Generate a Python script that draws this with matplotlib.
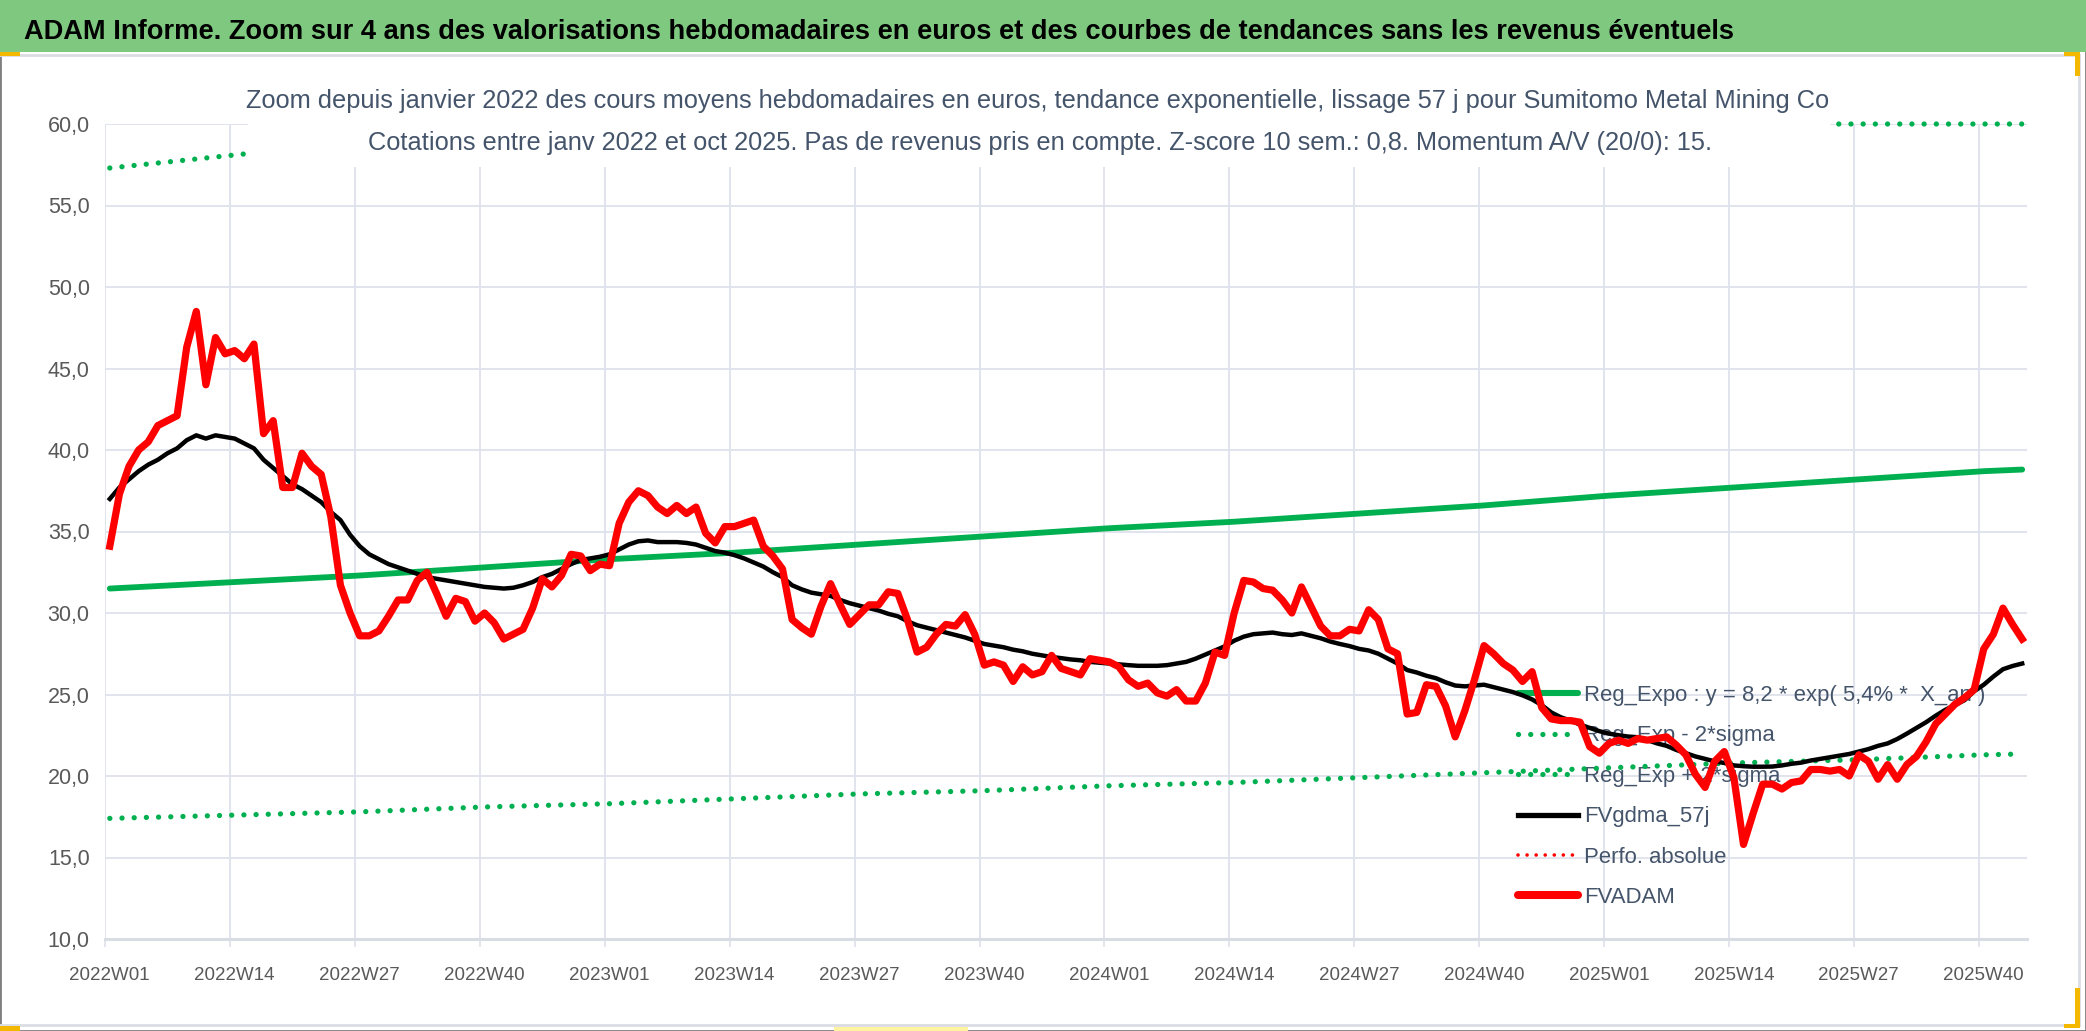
#!/usr/bin/env python3
"""
ADAM weekly valuation zoom chart (Sumitomo Metal Mining Co), 2022W01 - 2025W44
"""

import numpy as np
import matplotlib
matplotlib.use('Agg')  # Non-interactive backend
import matplotlib.pyplot as plt
from matplotlib import font_manager
from matplotlib.lines import Line2D
from matplotlib.patches import Rectangle

# ---- data ------------------------------------------------------------------
tick_labels = ['2022W01', '2022W14', '2022W27', '2022W40',
               '2023W01', '2023W14', '2023W27', '2023W40',
               '2024W01', '2024W14', '2024W27', '2024W40',
               '2025W01', '2025W14', '2025W27', '2025W40']

# FVADAM : weekly mean price in euros (one value per week, 200 weeks)
fvadam = [
    34.1, 37.3, 39.0, 40.0, 40.5, 41.5, 41.8, 42.1, 46.3, 48.5,
    44.0, 46.9, 45.9, 46.1, 45.6, 46.5, 41.0, 41.8, 37.7, 37.7,
    39.8, 39.0, 38.5, 35.9, 31.7, 30.0, 28.6, 28.6, 28.9, 29.8,
    30.8, 30.8, 32.0, 32.5, 31.2, 29.8, 30.9, 30.7, 29.5, 30.0,
    29.4, 28.4, 28.7, 29.0, 30.3, 32.1, 31.6, 32.3, 33.6, 33.5,
    32.6, 33.0, 32.9, 35.5, 36.8, 37.5, 37.2, 36.5, 36.1, 36.6,
    36.1, 36.5, 34.9, 34.3, 35.3, 35.3, 35.5, 35.7, 34.1, 33.5,
    32.7, 29.6, 29.1, 28.7, 30.4, 31.8, 30.5, 29.3, 29.9, 30.5,
    30.5, 31.3, 31.2, 29.6, 27.6, 27.9, 28.7, 29.3, 29.2, 29.9,
    28.7, 26.8, 27.0, 26.8, 25.8, 26.7, 26.2, 26.4, 27.4, 26.6,
    26.4, 26.2, 27.2, 27.1, 27.0, 26.7, 25.9, 25.5, 25.7, 25.1,
    24.9, 25.3, 24.6, 24.6, 25.7, 27.6, 27.4, 30.0, 32.0, 31.9,
    31.5, 31.4, 30.8, 30.0, 31.6, 30.4, 29.2, 28.6, 28.6, 29.0,
    28.9, 30.2, 29.6, 27.8, 27.5, 23.8, 23.9, 25.6, 25.5, 24.3,
    22.4, 24.0, 25.9, 28.0, 27.5, 26.9, 26.5, 25.8, 26.4, 24.2,
    23.5, 23.4, 23.4, 23.3, 21.8, 21.4, 22.0, 22.2, 22.0, 22.3,
    22.2, 22.3, 22.4, 21.9, 21.3, 20.1, 19.3, 20.9, 21.5, 19.9,
    15.8, 17.7, 19.5, 19.5, 19.2, 19.6, 19.7, 20.4, 20.4, 20.3,
    20.4, 20.0, 21.3, 20.9, 19.8, 20.7, 19.8, 20.7, 21.2, 22.1,
    23.2, 23.8, 24.4, 24.8, 25.3, 27.8, 28.7, 30.3, 29.3, 28.4,
]

# FVgdma_57j : 57-day smoothed curve
fvgdma_57j = [
    37.0, 37.7, 38.2, 38.7, 39.1, 39.4, 39.8, 40.1, 40.6, 40.9,
    40.7, 40.9, 40.8, 40.7, 40.4, 40.1, 39.4, 38.9, 38.4, 37.9,
    37.6, 37.2, 36.8, 36.2, 35.7, 34.8, 34.1, 33.6, 33.3, 33.0,
    32.8, 32.6, 32.4, 32.2, 32.1, 32.0, 31.9, 31.8, 31.7, 31.6,
    31.55, 31.5, 31.55, 31.7, 31.9, 32.2, 32.4, 32.7, 33.0, 33.25,
    33.35, 33.45, 33.6, 33.9, 34.2, 34.4, 34.45, 34.35, 34.35, 34.35,
    34.3, 34.2, 34.0, 33.8, 33.7, 33.55, 33.35, 33.1, 32.85, 32.5,
    32.2, 31.7, 31.45, 31.25, 31.15, 31.05, 30.8, 30.6, 30.45, 30.3,
    30.15, 29.95, 29.8, 29.5, 29.25, 29.1, 28.95, 28.8, 28.65, 28.5,
    28.3, 28.1, 28.0, 27.9, 27.75, 27.65, 27.5, 27.4, 27.3, 27.23,
    27.15, 27.1, 27.0, 26.95, 26.9, 26.85, 26.8, 26.76, 26.76, 26.76,
    26.8, 26.9, 27.0, 27.2, 27.45, 27.7, 27.95, 28.3, 28.55, 28.7,
    28.75, 28.8, 28.7, 28.65, 28.75, 28.6, 28.45, 28.25, 28.1, 27.97,
    27.8, 27.7, 27.5, 27.2, 26.9, 26.5, 26.35, 26.15, 26.0, 25.75,
    25.55, 25.5, 25.55, 25.6, 25.45, 25.3, 25.15, 24.95, 24.7, 24.35,
    23.9, 23.6, 23.4, 23.15, 22.95, 22.75, 22.6, 22.5, 22.42, 22.38,
    22.2, 22.0, 21.85, 21.6, 21.4, 21.2, 21.05, 20.9, 20.8, 20.65,
    20.6, 20.57, 20.57, 20.58, 20.65, 20.75, 20.82, 20.95, 21.05, 21.15,
    21.25, 21.35, 21.5, 21.65, 21.85, 22.0, 22.27, 22.6, 22.95, 23.3,
    23.7, 24.06, 24.35, 24.65, 25.2, 25.6, 26.1, 26.55, 26.75, 26.9,
]

# trend curves, read at the labelled weeks and at the last week
trend_weeks = [0, 13, 26, 39, 52, 65, 78, 91, 104, 117, 130, 143, 156, 169, 182, 195, 199]
reg_expo = [31.5, 31.9, 32.3, 32.8, 33.3, 33.7, 34.2, 34.7, 35.2, 35.6,
            36.1, 36.6, 37.2, 37.7, 38.2, 38.7, 38.8]
reg_minus_2sigma = [17.4, 17.6, 17.8, 18.1, 18.3, 18.6, 18.9, 19.1, 19.4, 19.6,
                    19.9, 20.2, 20.5, 20.8, 21.0, 21.3, 21.35]
reg_plus_2sigma = [57.3, 58.1, 58.9, 59.8, 60.6, 61.5, 62.3, 63.2, 64.1, 65.0,
                   65.9, 66.9, 67.8, 68.8, 69.8, 70.8, 71.1]

Y_MIN, Y_MAX = 10, 60

# ---- fonts / colours --------------------------------------------------------
installed = {f.name for f in font_manager.fontManager.ttflist}
FONT = 'Liberation Sans Narrow' if 'Liberation Sans Narrow' in installed else 'Liberation Sans'
plt.rcParams['font.family'] = [FONT, 'DejaVu Sans']

GREEN = '#00B050'
RED = '#FF0000'
GRID = '#DEE2EA'
TICK_TXT = '#595959'
SUB_TXT = '#44546A'

W, H = 2086, 1031
fig = plt.figure(figsize=(W / 100, H / 100), dpi=100)


def fx(px):
    return px / W


def fy(py):
    return 1 - py / H


# frame, title band, selection marks
fig.add_artist(Rectangle((0, fy(1031)), 1, 1, transform=fig.transFigure,
                         facecolor='white', edgecolor='#7F7F7F', lw=2, zorder=-5))
fig.add_artist(Rectangle((0, fy(52)), 1, 52 / H, transform=fig.transFigure,
                         facecolor='#7EC97F', edgecolor='none', zorder=-4))
fig.add_artist(Line2D([0, fx(2079)], [fy(55), fy(55)], transform=fig.transFigure,
                      color='#DADDE3', lw=2, zorder=-3))
fig.add_artist(Line2D([0, fx(2079)], [fy(1025), fy(1025)], transform=fig.transFigure,
                      color='#DADDE3', lw=2, zorder=-3))
fig.add_artist(Line2D([fx(2079), fx(2079)], [fy(55), fy(1025)], transform=fig.transFigure,
                      color='#DADDE3', lw=2, zorder=-3))
for (x0, y0, w, h, c) in [(0, 52, 20, 4, '#F5B800'), (2064, 52, 16, 4, '#F5B800'),
                          (2075, 52, 5, 24, '#F5B800'), (0, 1026, 20, 5, '#F5B800'),
                          (834, 1027, 134, 4, '#FFF3A0'), (2075, 988, 5, 40, '#F5B800'),
                          (2064, 1024, 16, 4, '#F5B800')]:
    fig.add_artist(Rectangle((fx(x0), fy(y0 + h)), w / W, h / H, transform=fig.transFigure,
                             facecolor=c, edgecolor='none', zorder=-2))

fig.text(fx(24), fy(39), 'ADAM Informe. Zoom sur 4 ans des valorisations hebdomadaires en euros '
         'et des courbes de tendances sans les revenus éventuels',
         fontsize=19.6, fontweight='bold', color='black', va='baseline', ha='left')

# ---- main axes ---------------------------------------------------------------
ax = fig.add_axes([fx(105), fy(939), (2027 - 105) / W, (939 - 124) / H])
ax.set_facecolor('none')
weeks = np.arange(len(fvadam))

dots = dict(color=GREEN, lw=3.8, linestyle=(0, (0.01, 2.3)), dash_capstyle='round', zorder=3)
ax.plot(trend_weeks, reg_expo, color=GREEN, lw=4.2, solid_capstyle='round', zorder=3)
ax.plot(trend_weeks, reg_minus_2sigma, **dots)
# values above the axis top are drawn along the top edge, as in the source chart
ax.plot(trend_weeks, np.minimum(reg_plus_2sigma, Y_MAX), clip_on=False, **dots)
ax.plot(weeks, fvgdma_57j, color='black', lw=3.2, zorder=4)
ax.plot(weeks, fvadam, color=RED, lw=5.2, solid_joinstyle='round', zorder=5)

ax.set_xlim(-0.5, len(fvadam) - 0.5)
ax.set_ylim(Y_MIN, Y_MAX)
tick_pos = np.arange(len(tick_labels)) * 13
ax.set_xticks(tick_pos)
ax.set_xticklabels(tick_labels)
ax.set_xticks(tick_pos - 0.5, minor=True)
ax.set_yticks(np.arange(Y_MIN, Y_MAX + 1, 5))
ax.set_yticklabels([f'{v:.1f}'.replace('.', ',') for v in np.arange(Y_MIN, Y_MAX + 1, 5)])
ax.tick_params(axis='x', which='major', length=0, pad=20, labelsize=13.5, labelcolor=TICK_TXT)
ax.tick_params(axis='x', which='minor', length=6, width=1.2, color=GRID)
ax.tick_params(axis='y', length=0, pad=11, labelsize=15.5, labelcolor=TICK_TXT)
ax.grid(which='minor', axis='x', color=GRID, lw=1.3, zorder=0)
ax.grid(which='major', axis='y', color=GRID, lw=1.3, zorder=0)
ax.grid(which='major', axis='x', visible=False)
# category axis line at the bottom, a bit stronger than the grid
ax.axhline(Y_MIN, color='#D9DCE2', lw=2.2, clip_on=False, zorder=1)
for s in ax.spines.values():
    s.set_visible(False)
ax.set_axisbelow(True)

handles = [
    Line2D([], [], color=GREEN, lw=4.4, solid_capstyle='round'),
    Line2D([], [], color=GREEN, lw=3.8, linestyle=(0, (0.01, 2.3)), dash_capstyle='round'),
    Line2D([], [], color=GREEN, lw=3.8, linestyle=(0, (0.01, 2.3)), dash_capstyle='round'),
    Line2D([], [], color='black', lw=3.8),
    Line2D([], [], color=RED, lw=2.6, linestyle=(0, (0.01, 2.5)), dash_capstyle='round'),
    Line2D([], [], color=RED, lw=5.8, solid_capstyle='round'),
]
labels = ['Reg_Expo : y = 8,2 * exp( 5,4% *  X_an )', 'Reg_Exp - 2*sigma',
          'Reg_Exp + 2*sigma', 'FVgdma_57j', 'Perfo. absolue', 'FVADAM']
leg = ax.legend(handles, labels, loc='upper left', bbox_to_anchor=(fx(1518), fy(685)),
                bbox_transform=fig.transFigure, frameon=False, fontsize=15.9,
                handlelength=2.7, handletextpad=0.3, labelspacing=0.88,
                borderpad=0, borderaxespad=0)
for t in leg.get_texts():
    t.set_color(SUB_TXT)
leg.set_zorder(2)

# ---- chart title box (white, hides what is behind it) ------------------------
fig.add_artist(Rectangle((fx(248), fy(167)), (1830 - 248) / W, (167 - 58) / H,
                         transform=fig.transFigure, facecolor='white', edgecolor='none', zorder=8))
fig.text(fx(1038), fy(108), 'Zoom depuis janvier 2022 des cours moyens hebdomadaires en euros, '
         'tendance exponentielle, lissage 57 j pour Sumitomo Metal Mining Co',
         fontsize=18.3, color=SUB_TXT, ha='center', va='baseline', zorder=9)
fig.text(fx(1040), fy(150), 'Cotations entre janv 2022 et oct 2025. Pas de revenus pris en compte. '
         'Z-score 10 sem.: 0,8. Momentum A/V (20/0): 15.',
         fontsize=18.3, color=SUB_TXT, ha='center', va='baseline', zorder=9)

fig.savefig('out.png', dpi=100)
